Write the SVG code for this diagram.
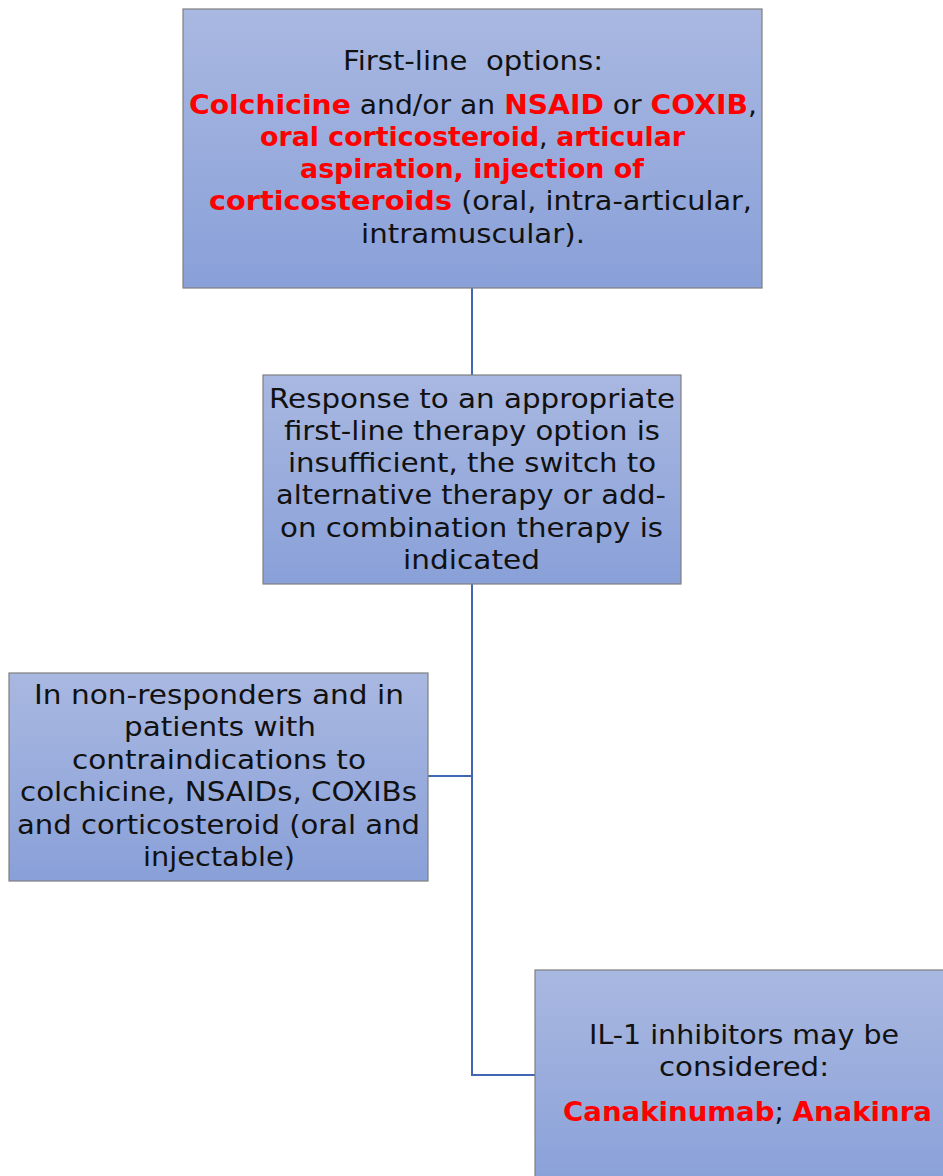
<svg xmlns="http://www.w3.org/2000/svg" width="943" height="1176" viewBox="0 0 943 1176">
<defs>
<linearGradient id="g" x1="0" y1="0" x2="0" y2="1">
<stop offset="0" stop-color="#a9b8e1"/>
<stop offset="1" stop-color="#89a0d8"/>
</linearGradient>
<style>
.box{fill:url(#g);stroke:#7f7f7f;stroke-width:1.2}
.t{font-family:"DejaVu Sans","Liberation Sans",sans-serif;font-size:27px;fill:#111}
.r{fill:#ff0000;font-weight:bold}
.c{fill:none;stroke:#4267b2;stroke-width:2}
</style>
</defs>
<rect width="943" height="1176" fill="#fff"/>
<g id="connectors">
<line class="c" x1="472" y1="288" x2="472" y2="375"/>
<polyline class="c" points="472,584 472,1075 535,1075"/>
<line class="c" x1="428" y1="776" x2="472" y2="776"/>
</g>
<g id="node1">
<rect class="box" x="183" y="9" width="579" height="279"/>
<text class="t" x="343" y="70" textLength="260" lengthAdjust="spacingAndGlyphs" xml:space="preserve" style="white-space:pre">First-line  options:</text>
<text class="t" x="189" y="114" textLength="568" lengthAdjust="spacingAndGlyphs"><tspan class="r">Colchicine</tspan> and/or an <tspan class="r">NSAID</tspan> or <tspan class="r">COXIB</tspan>,</text>
<text class="t" x="260" y="146" textLength="425" lengthAdjust="spacingAndGlyphs"><tspan class="r">oral corticosteroid</tspan>, <tspan class="r">articular</tspan></text>
<text class="t" x="300" y="178" textLength="344" lengthAdjust="spacingAndGlyphs"><tspan class="r">aspiration, injection of</tspan></text>
<text class="t" x="209" y="210" textLength="543" lengthAdjust="spacingAndGlyphs"><tspan class="r">corticosteroids</tspan> (oral, intra-articular,</text>
<text class="t" x="361" y="243" textLength="224" lengthAdjust="spacingAndGlyphs">intramuscular).</text>
</g>
<g id="node2">
<rect class="box" x="263" y="375" width="418" height="209"/>
<text class="t" x="269" y="408" textLength="406" lengthAdjust="spacingAndGlyphs">Response to an appropriate</text>
<text class="t" x="284" y="440" textLength="376" lengthAdjust="spacingAndGlyphs">first-line therapy option is</text>
<text class="t" x="288" y="472" textLength="368" lengthAdjust="spacingAndGlyphs">insufficient, the switch to</text>
<text class="t" x="276" y="504" textLength="390" lengthAdjust="spacingAndGlyphs">alternative therapy or add-</text>
<text class="t" x="280" y="537" textLength="383" lengthAdjust="spacingAndGlyphs">on combination therapy is</text>
<text class="t" x="403" y="569" textLength="137" lengthAdjust="spacingAndGlyphs">indicated</text>
</g>
<g id="node3">
<rect class="box" x="9" y="673" width="419" height="208"/>
<text class="t" x="34" y="704" textLength="370" lengthAdjust="spacingAndGlyphs">In non-responders and in</text>
<text class="t" x="124" y="736" textLength="192" lengthAdjust="spacingAndGlyphs">patients with</text>
<text class="t" x="72" y="769" textLength="294" lengthAdjust="spacingAndGlyphs">contraindications to</text>
<text class="t" x="20" y="801" textLength="397" lengthAdjust="spacingAndGlyphs">colchicine, NSAIDs, COXIBs</text>
<text class="t" x="17" y="834" textLength="403" lengthAdjust="spacingAndGlyphs">and corticosteroid (oral and</text>
<text class="t" x="143" y="866" textLength="152" lengthAdjust="spacingAndGlyphs">injectable)</text>
</g>
<g id="node4">
<rect class="box" x="535" y="970" width="420" height="220"/>
<text class="t" x="589" y="1044" textLength="310" lengthAdjust="spacingAndGlyphs">IL-1 inhibitors may be</text>
<text class="t" x="659" y="1076" textLength="170" lengthAdjust="spacingAndGlyphs">considered:</text>
<text class="t" x="563" y="1121" textLength="369" lengthAdjust="spacingAndGlyphs"><tspan class="r">Canakinumab</tspan>; <tspan class="r">Anakinra</tspan></text>
</g>
</svg>
